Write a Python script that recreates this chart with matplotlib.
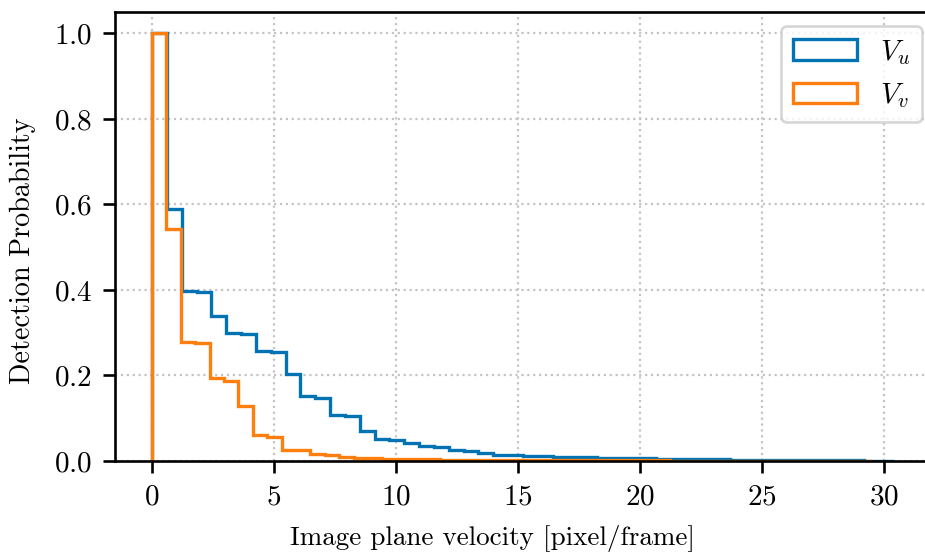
import numpy as np
import matplotlib
matplotlib.use('Agg')
import matplotlib.pyplot as plt

# normalised detection probability per velocity bin (50 bins each)
vu_max = 30.4  # upper edge of the V_u histogram
vv_max = 29.5  # upper edge of the V_v histogram
vu_prob = [1.0, 0.589, 0.397, 0.394, 0.339, 0.299, 0.296, 0.258, 0.255, 0.204,
           0.151, 0.147, 0.108, 0.106, 0.069, 0.051, 0.050, 0.042, 0.034, 0.033,
           0.025, 0.024, 0.019, 0.015, 0.015, 0.012, 0.012, 0.010, 0.009, 0.009,
           0.008, 0.007, 0.006, 0.006, 0.005, 0.005, 0.004, 0.004, 0.004, 0.003,
           0.003, 0.003, 0.003, 0.002, 0.002, 0.002, 0.002, 0.002, 0.001, 0.001]
vv_prob = [1.0, 0.543, 0.279, 0.275, 0.195, 0.188, 0.129, 0.060, 0.055, 0.026,
           0.025, 0.016, 0.015, 0.010, 0.007, 0.006, 0.005, 0.005, 0.004, 0.004,
           0.003, 0.003, 0.002, 0.002, 0.002, 0.002, 0.002, 0.002, 0.002, 0.002,
           0.002, 0.002, 0.002, 0.002, 0.002, 0.002, 0.001, 0.001, 0.001, 0.001,
           0.001, 0.001, 0.001, 0.001, 0.001, 0.001, 0.001, 0.001, 0.001, 0.001]

plt.rcParams['font.family'] = 'serif'
plt.rcParams['font.serif'] = ['cmr10']
plt.rcParams['mathtext.fontset'] = 'cm'
plt.rcParams['axes.formatter.use_mathtext'] = True

fig = plt.figure(figsize=(9.25, 5.54), dpi=100)
# axes runs a little past the right edge (reference is cropped there)
ax = fig.add_axes([0.1243, 0.1679, 0.8919, 0.8105])

edges_u = np.linspace(0, vu_max, len(vu_prob) + 1)
edges_v = np.linspace(0, vv_max, len(vv_prob) + 1)
ax.hist(edges_u[:-1], bins=edges_u, weights=vu_prob, histtype='step',
        color='#0173b2', lw=2.4, label='$V_u$')
ax.hist(edges_v[:-1], bins=edges_v, weights=vv_prob, histtype='step',
        color='#ff7f0e', lw=2.4, label='$V_v$')

ax.set_xlim(-1.52, 32.3)
ax.set_ylim(0, 1.05)
ax.set_xticks([0, 5, 10, 15, 20, 25, 30])
ax.set_yticks([0.0, 0.2, 0.4, 0.6, 0.8, 1.0])
ax.grid(ls=':', lw=1.6, color='#c4c4c4')
ax.set_axisbelow(True)
for s in ax.spines.values():
    s.set_linewidth(1.9)
ax.tick_params(length=8.4, width=1.9, pad=8, labelsize=21)
ax.set_xlabel('Image plane velocity [pixel/frame]', fontsize=19.5)
ax.set_ylabel('Detection Probability', fontsize=20.3)
ax.xaxis.set_label_coords(0.457, -0.143)
ax.yaxis.set_label_coords(-0.096, 0.468)
leg = ax.legend(loc='upper right', bbox_to_anchor=(0.978, 0.969),
                fontsize=21, frameon=True, borderaxespad=0, handlelength=2.2)
leg.get_frame().set_linewidth(1.9)

fig.savefig('out.png', dpi=100)
